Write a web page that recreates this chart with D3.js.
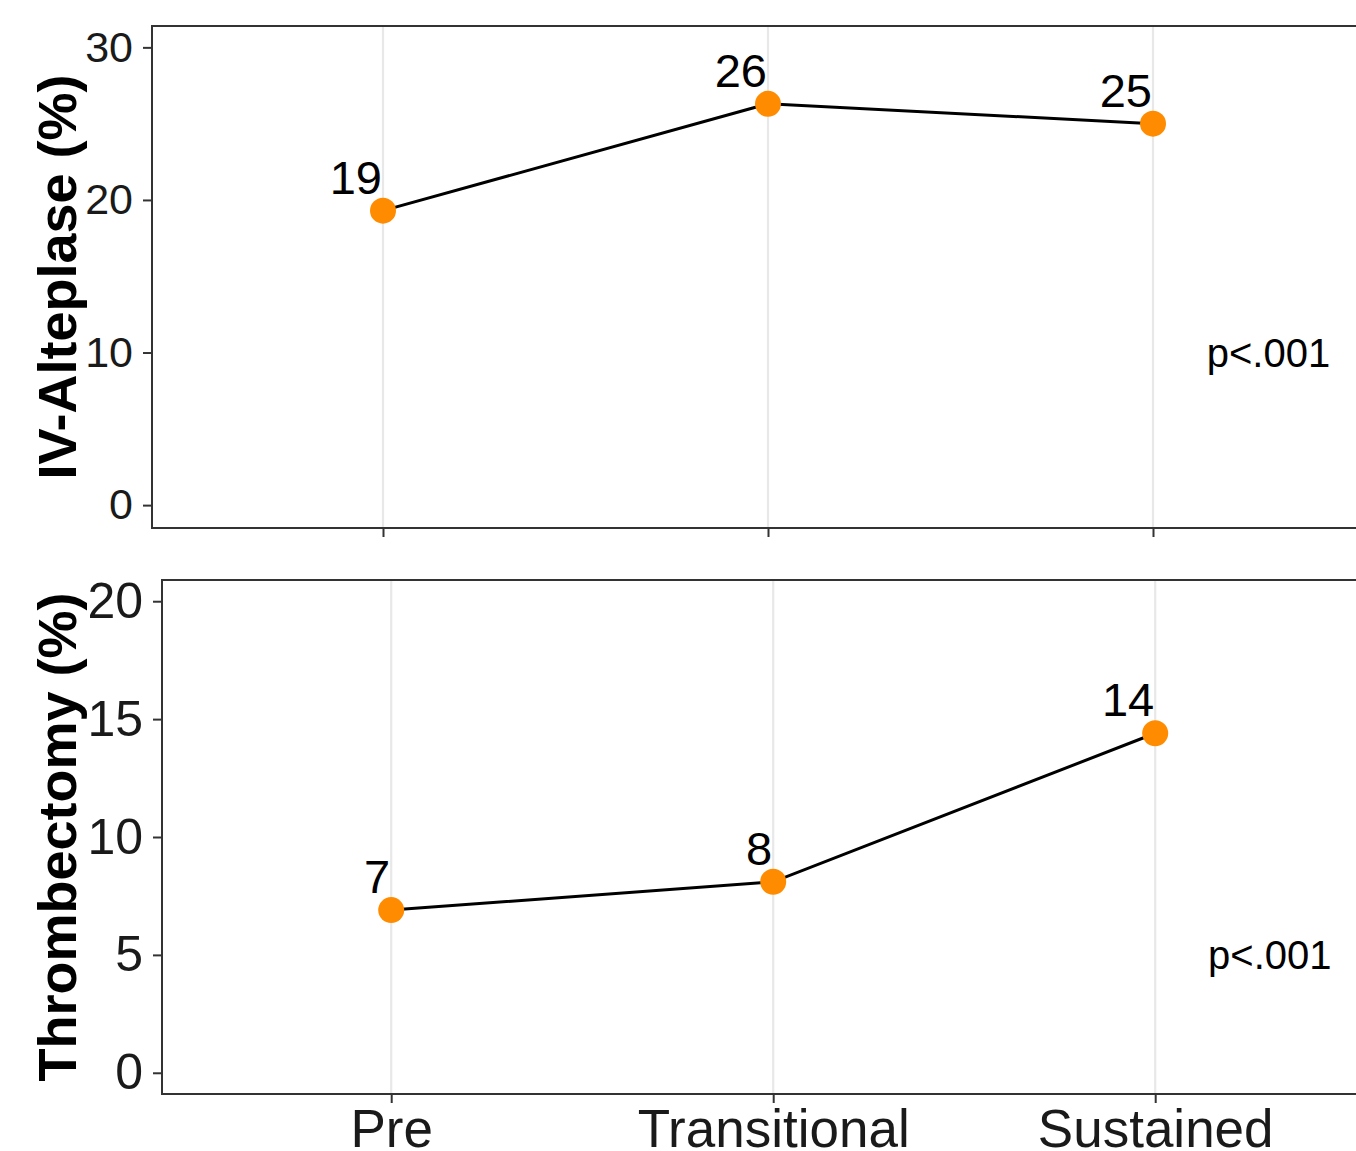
<!DOCTYPE html>
<html>
<head>
<meta charset="utf-8">
<script src="https://cdn.jsdelivr.net/npm/d3@7"></script>
<style>
  html, body { margin: 0; padding: 0; background: #fff; }
  svg { display: block; font-family: "Liberation Sans", Arial, sans-serif; }
</style>
</head>
<body>
<svg id="chart" width="1356" height="1151"></svg>
<script>
// ---- data ----
const categories = ["Pre", "Transitional", "Sustained"];
const alteplaseValues = [19.3, 26.3, 25.0];
const alteplaseLabels = ["19", "26", "25"];
const thrombectomyValues = [6.9, 8.1, 14.4];
const thrombectomyLabels = ["7", "8", "14"];
const alteplaseTicks = [0, 10, 20, 30];
const thrombectomyTicks = [0, 5, 10, 15, 20];
const pValueText = "p<.001";

const svg = d3.select("#chart");

const panels = [
  { title: "IV-Alteplase (%)", values: alteplaseValues, labels: alteplaseLabels,
    ticks: alteplaseTicks, domain: [-1.5, 31.4], pY: 10,
    left: 152, top: 26, bottom: 528, tickFont: 43, showX: false },
  { title: "Thrombectomy (%)", values: thrombectomyValues, labels: thrombectomyLabels,
    ticks: thrombectomyTicks, domain: [-0.9, 20.9], pY: 5,
    left: 162, top: 580, bottom: 1094, tickFont: 50, showX: true }
];

panels.forEach(p => {
  // discrete axis with ggplot-like 0.6 expansion
  const step = 385 - (p.showX ? 3 : 0);
  const right = p.left + step * (2 + 1.2);
  const x = d3.scalePoint().domain(categories).range([p.left + 0.6 * step, right - 0.6 * step]);
  const y = d3.scaleLinear().domain(p.domain).range([p.bottom, p.top]);
  const g = svg.append("g");

  // grid lines (vertical only)
  g.selectAll("line.grid").data(categories).enter().append("line")
    .attr("x1", d => x(d)).attr("x2", d => x(d))
    .attr("y1", p.top).attr("y2", p.bottom)
    .attr("stroke", "#e8e8e8").attr("stroke-width", 2.2);

  // y axis
  const yAxis = d3.axisLeft(y).tickValues(p.ticks).tickSize(9).tickPadding(10).tickFormat(d3.format("d"));
  const ya = g.append("g").attr("transform", `translate(${p.left},0)`).call(yAxis);
  ya.select(".domain").remove();
  ya.selectAll(".tick line").attr("stroke", "#333").attr("stroke-width", 2);
  ya.selectAll(".tick text").attr("fill", "#1a1a1a").style("font-size", p.tickFont + "px")
    .style("font-family", "Liberation Sans, Arial, sans-serif");

  // x axis
  const xAxis = d3.axisBottom(x).tickSize(9).tickPadding(6);
  const xa = g.append("g").attr("transform", `translate(0,${p.bottom})`).call(xAxis);
  xa.select(".domain").remove();
  xa.selectAll(".tick line").attr("stroke", "#333").attr("stroke-width", 2);
  if (p.showX) {
    xa.selectAll(".tick text").attr("fill", "#1a1a1a").style("font-size", "53px")
      .style("font-family", "Liberation Sans, Arial, sans-serif").attr("dy", "0.71em");
  } else {
    xa.selectAll(".tick text").remove();
  }

  // panel border
  g.append("rect").attr("x", p.left).attr("y", p.top)
    .attr("width", right - p.left).attr("height", p.bottom - p.top)
    .attr("fill", "none").attr("stroke", "#333").attr("stroke-width", 2);

  // line
  const line = d3.line().x((d, i) => x(categories[i])).y(d => y(d));
  g.append("path").datum(p.values).attr("d", line)
    .attr("fill", "none").attr("stroke", "#000").attr("stroke-width", 3);

  // points
  g.selectAll("circle.pt").data(p.values).enter().append("circle")
    .attr("cx", (d, i) => x(categories[i])).attr("cy", d => y(d))
    .attr("r", 13).attr("fill", "#FF8C00");

  // value labels
  g.selectAll("text.lbl").data(p.values).enter().append("text")
    .attr("x", (d, i) => x(categories[i]) - 1).attr("y", d => y(d) - 17)
    .attr("text-anchor", "end").style("font-size", "47px").attr("fill", "#000")
    .text((d, i) => p.labels[i]);

  // p-value annotation
  const px = x(categories[2]) + 0.3 * step;
  g.append("text").attr("x", px).attr("y", y(p.pY)).attr("dy", "0.35em")
    .attr("text-anchor", "middle").style("font-size", "40px").attr("fill", "#000")
    .text(pValueText);

  // y title
  const cy = (p.top + p.bottom) / 2;
  g.append("text").attr("transform", `translate(76,${cy}) rotate(-90)`)
    .attr("text-anchor", "middle").style("font-size", "54px").style("font-weight", "bold")
    .attr("fill", "#000").text(p.title);
});
</script>
</body>
</html>
